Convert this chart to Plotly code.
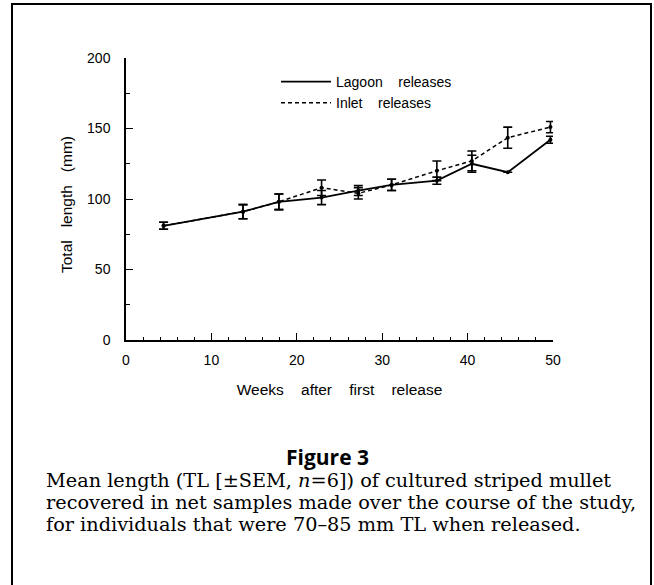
import plotly.graph_objects as go

# ---- data ----
weeks = [4.4, 13.7, 17.9, 22.9, 27.2, 31.1, 36.4, 40.5, 44.7, 49.7]
lagoon = [81, 91, 98, 101, 106, 110, 113, 125, 119, 142]
lagoon_sem = [2.5, 5, 5.5, 5, 3.5, 4, 2.5, 6, 0, 2.5]
inlet = [81, 91, 98, 108, 104, 110, 120, 127, 143.5, 151]
inlet_sem = [2.5, 5, 5.5, 5.5, 4, 4, 7, 7, 7.5, 4]

x_ticks = [0, 10, 20, 30, 40, 50]
y_ticks = [0, 50, 100, 150, 200]

series_names = ["Lagoon    releases", "Inlet    releases"]
x_title = "Weeks    after    first    release"
y_title = "Total   length   (mm)"
caption_title = "Figure 3"
caption_lines = [
    "Mean length (TL [\u00b1SEM, <i>n</i>=6]) of cultured striped mullet",
    "recovered in net samples made over the course of the study,",
    "for individuals that were 70\u201385 mm TL when released.",
]

# ---- layout geometry ----
W, H = 654, 585
L, R, T, B = 126, 101, 58, 245
pw, ph = W - L - R, H - T - B


def px_x(p):
    return (p - L) / pw


def px_y(p):
    return (H - B - p) / ph


sans = "Liberation Sans, Arial, sans-serif"
serif = "DejaVu Serif, serif"

fig = go.Figure()
fig.add_trace(go.Scatter(
    x=weeks, y=lagoon, name=series_names[0], mode="lines+markers", showlegend=False,
    line=dict(color="black", width=1.8),
    marker=dict(color="black", size=4),
    error_y=dict(type="data", array=lagoon_sem, color="black", thickness=1.6, width=4.5),
))
fig.add_trace(go.Scatter(
    x=weeks, y=inlet, name=series_names[1], mode="lines+markers", showlegend=False,
    line=dict(color="black", width=1.5, dash="4px,3px"),
    marker=dict(color="black", size=4),
    error_y=dict(type="data", array=inlet_sem, color="black", thickness=1.6, width=4.5),
))
# legend entries (line samples only, no markers)
fig.add_trace(go.Scatter(x=[None], y=[None], name=series_names[0], mode="lines",
                         line=dict(color="black", width=1.8)))
fig.add_trace(go.Scatter(x=[None], y=[None], name=series_names[1], mode="lines",
                         line=dict(color="black", width=1.5, dash="4px,3px")))

axis_common = dict(
    showline=True, linecolor="black", linewidth=1.5, showgrid=False, zeroline=False,
    ticks="inside", tickcolor="black", ticklen=7, tickwidth=1.3,
    tickfont=dict(family=sans, size=14, color="black"),
)

fig.update_xaxes(
    range=[0, 50], tickvals=x_ticks, ticklabelstandoff=6,
    minor=dict(dtick=2, ticks="inside", ticklen=3, tickcolor="black", tickwidth=1.2),
    title=dict(text=x_title, font=dict(family=sans, size=15.5, color="black"), standoff=18),
    **axis_common,
)
fig.update_yaxes(
    range=[0, 200], tickvals=y_ticks, ticklabelstandoff=11,
    minor=dict(dtick=25, ticks="inside", ticklen=4, tickcolor="black", tickwidth=1.2),
    **axis_common,
)

annotations = [
    dict(text=y_title, x=px_x(67), y=px_y(205), xref="paper", yref="paper",
         showarrow=False, xanchor="center", yanchor="middle", textangle=-90,
         font=dict(family=sans, size=15.5, color="black")),
    dict(text=caption_title, x=px_x(327), y=px_y(457), xref="paper", yref="paper",
         showarrow=False, xanchor="center", yanchor="middle",
         font=dict(family="Open Sans, sans-serif", size=21, color="black", weight="bold")),
]
for i, line in enumerate(caption_lines):
    annotations.append(dict(
        text=line, x=px_x(44), y=px_y(480 + 22 * i), xref="paper", yref="paper",
        showarrow=False, xanchor="left", yanchor="middle",
        font=dict(family=serif, size=19.3, color="black"),
    ))

fig.update_layout(
    width=W, height=H,
    margin=dict(l=L, r=R, t=T, b=B, pad=0),
    paper_bgcolor="white", plot_bgcolor="white",
    showlegend=True,
    legend=dict(x=px_x(276), y=px_y(66), xanchor="left", yanchor="top",
                bgcolor="rgba(0,0,0,0)", font=dict(family=sans, size=14, color="black"),
                tracegroupgap=0, itemwidth=50),
    annotations=annotations,
    shapes=[dict(type="rect", xref="paper", yref="paper",
                 x0=px_x(12), x1=px_x(651), y0=px_y(H + 20), y1=px_y(4),
                 line=dict(color="black", width=2))],
)

fig.write_html("out.html")
